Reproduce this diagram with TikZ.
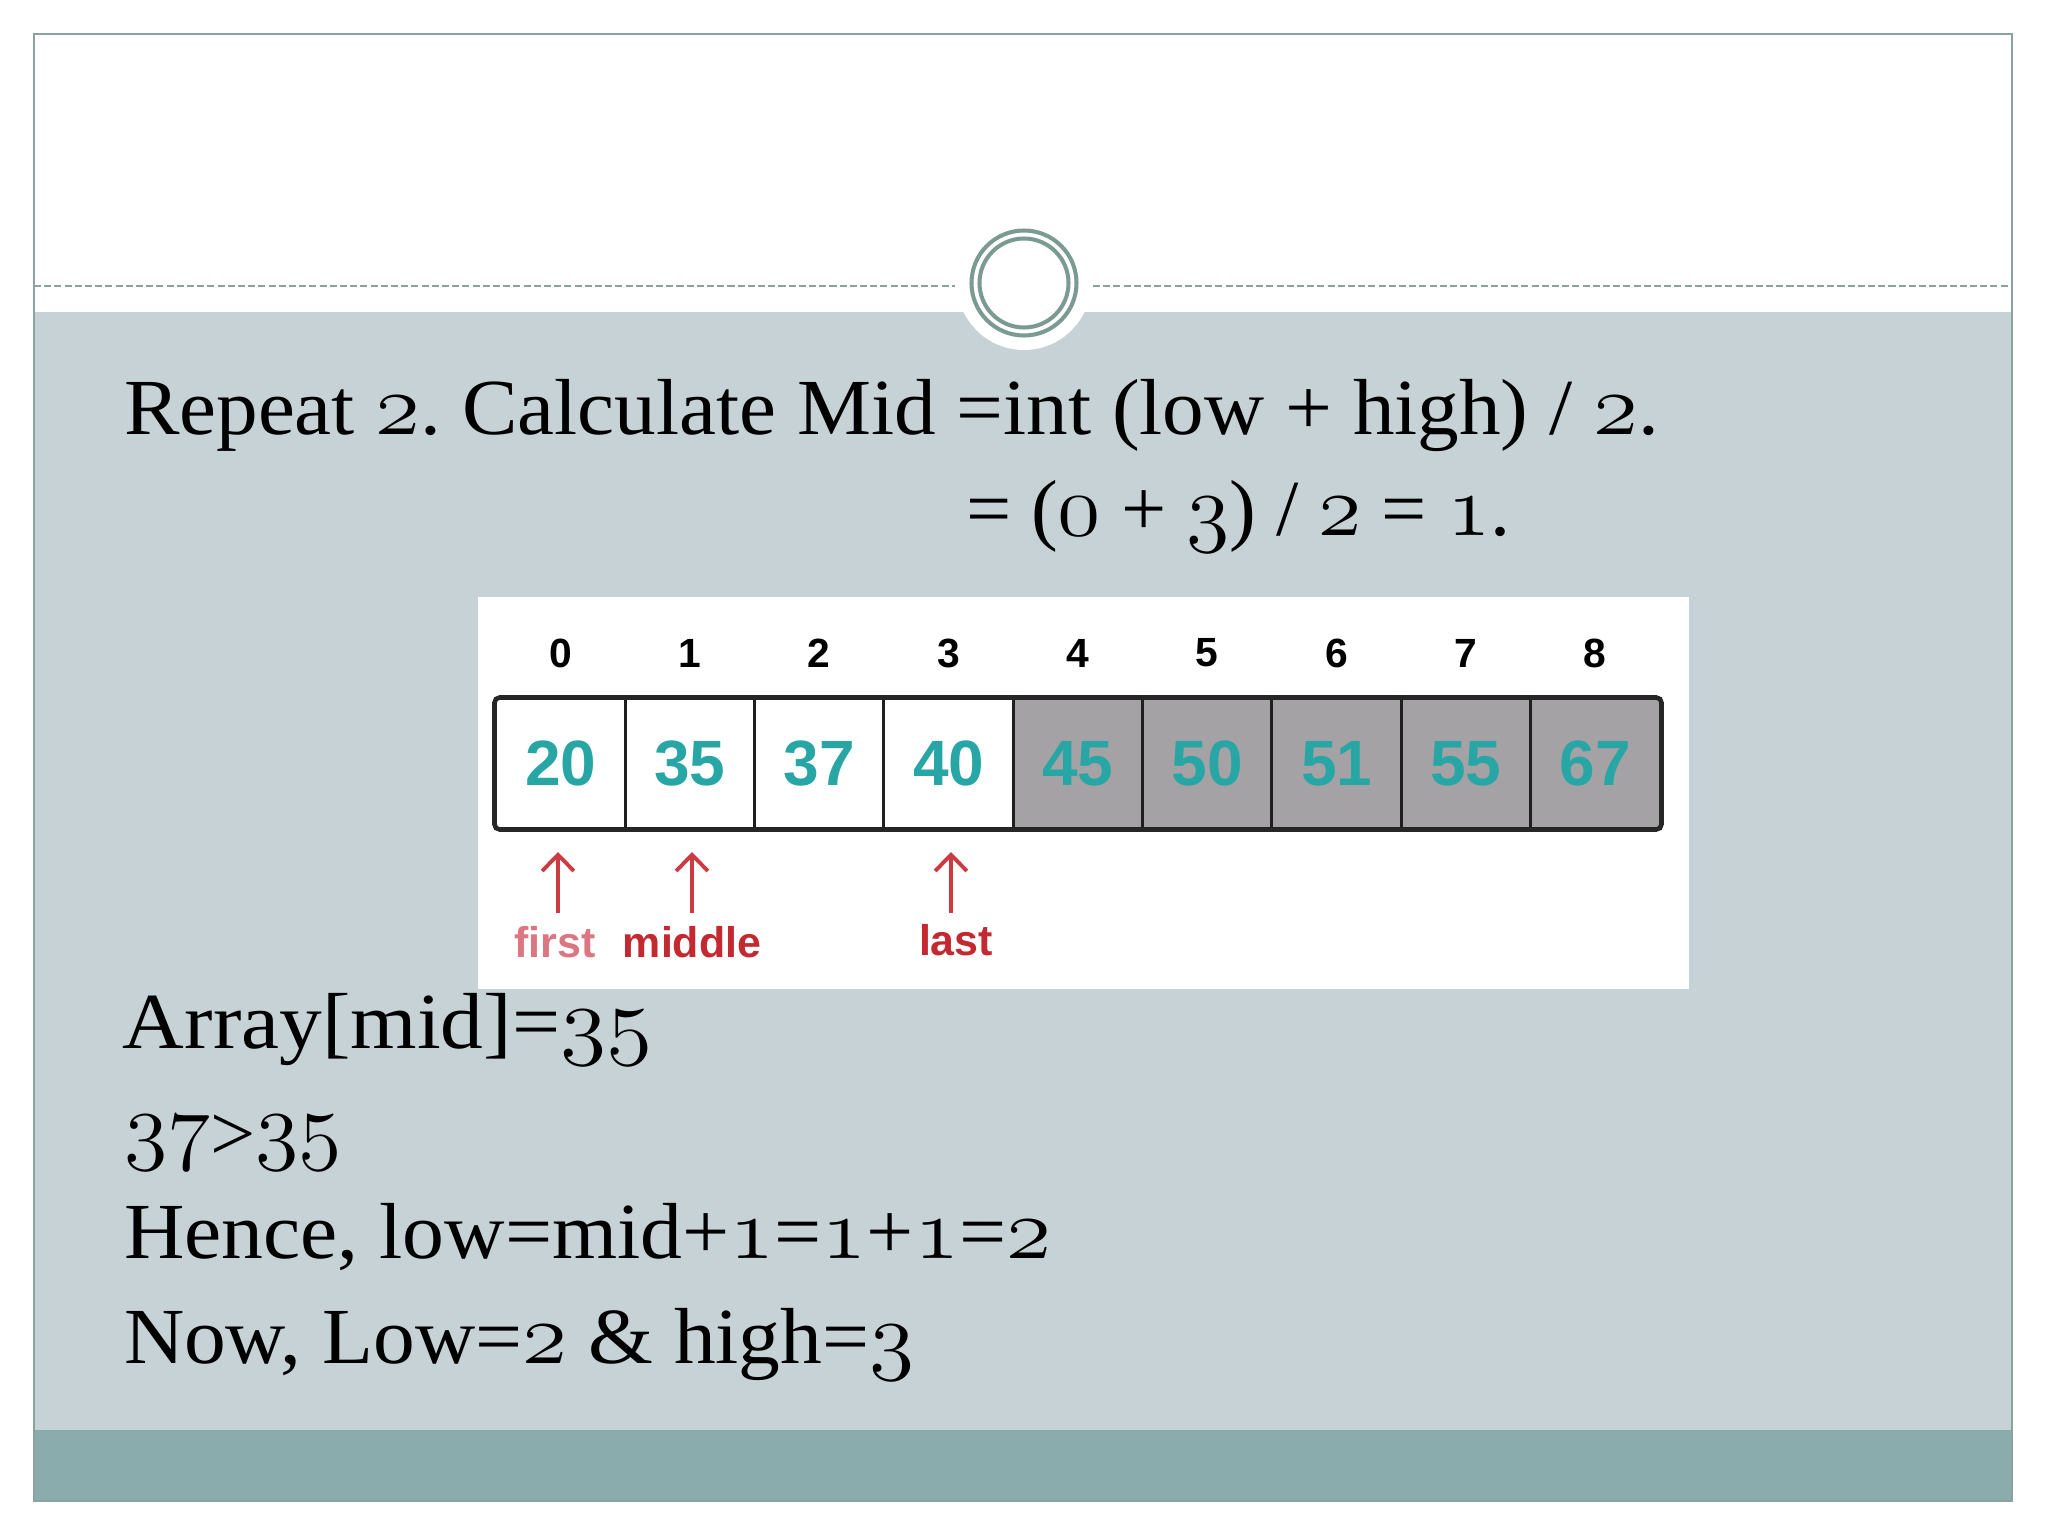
\documentclass[tikz,border=0pt]{standalone}
\usepackage{graphicx}
\usepackage{fontspec}
\setmainfont{Liberation Serif}
\newfontfamily\arrfont{Liberation Sans}
\usetikzlibrary{arrows.meta}
\frenchspacing

\definecolor{slidebg}{RGB}{198,210,214}
\definecolor{bandc}{RGB}{138,172,172}
\definecolor{framec}{RGB}{140,162,158}
\definecolor{ringc}{RGB}{122,154,146}
\definecolor{valc}{RGB}{40,166,166}
\definecolor{cellgray}{RGB}{164,162,164}
\definecolor{arrred}{RGB}{204,58,66}
\definecolor{labred}{RGB}{196,40,48}
\definecolor{labpink}{RGB}{220,118,128}

\newsavebox\fitbox
\newcommand\fitx[2]{\sbox\fitbox{#2}\pgfmathsetmacro\fitratio{#1*0.284528/\the\wd\fitbox}\scalebox{\fitratio}[1]{\usebox\fitbox}}
\newcommand\os[1]{{\fontsize{24.5pt}{27pt}\usefont{OML}{lmm}{b}{it}#1}}

\tikzset{
  txt/.style={inner sep=0pt, outer sep=0pt, anchor=base west, font=\fontsize{22.6pt}{27pt}\selectfont},
  cellbox/.style={draw=black!88, line width=0.85pt, minimum width=1.2933cm, minimum height=1.29cm, inner sep=0pt,
     text=valc, font=\arrfont\bfseries\fontsize{18.2pt}{20pt}\selectfont},
  idx/.style={inner sep=0pt, font=\arrfont\bfseries\fontsize{11.6pt}{13pt}\selectfont},
  lab/.style={inner sep=0pt, anchor=base, font=\arrfont\bfseries\fontsize{12.2pt}{14pt}\selectfont},
  arr/.style={arrred, line width=1.1pt, -{Straight Barb[length=4.6pt,width=9pt]}},
  ring/.style={ringc, line width=1.15pt},
  dashln/.style={framec, line width=0.45pt, dash pattern=on 2pt off 0.9pt}
}

\begin{document}
\begin{tikzpicture}[x=0.01cm,y=-0.01cm]
\useasboundingbox (0,0) rectangle (2048,1536);
\fill[white] (0,0) rectangle (2048,1536);
% slide body
\fill[slidebg] (34,312) rectangle (2012,1430);
\fill[bandc] (34,1430) rectangle (2012,1501);
\fill[white] (1024,283) circle (67);
\draw[dashln] (34,286) -- (955,286);
\draw[dashln] (1093,286) -- (2012,286);
\draw[ring] (1024,283) circle (52.5);
\draw[ring] (1024,283) circle (44.5);
\draw[framec, line width=0.5pt] (34,34) rectangle (2012,1501);

% text lines
\node[txt] (l1) at (124,434) {\fitx{1534}{Repeat \os{2}. Calculate Mid =int (low + high) / \os{2}.}};
\node[txt] (l2) at (966,535) {\fitx{544}{= (\os{0} + \os{3}) / \os{2} = \os{1}.}};

% picture box
\fill[white] (478,597) rectangle (1689,989);
\foreach \v [count=\i from 0] in {20,35,37,40} {
  \node[cellbox, fill=white] (c\i) at ({496+129.33*(\i+0.5)},763.5) {\v};
}
\foreach \v [count=\i from 4] in {45,50,51,55,67} {
  \node[cellbox, fill=cellgray] (c\i) at ({496+129.33*(\i+0.5)},763.5) {\v};
}
\draw[black!85, line width=1.3pt, rounded corners=1.5pt] (c0.north west) rectangle (c8.south east);
\foreach \i in {0,...,8} {
  \node[idx] (i\i) at ({496+129.33*(\i+0.5)},653) {\i};
}

% pointers
\coordinate (fb) at (558,913); \coordinate (ft) at (558,852);
\coordinate (mb) at (692,913); \coordinate (mt) at (692,852);
\coordinate (lb) at (951,913); \coordinate (lt) at (951,852);
\draw[arr] (fb) -- (ft);
\draw[arr] (mb) -- (mt);
\draw[arr] (lb) -- (lt);
\node[lab, text=labpink] (first) at (555,957) {first};
\node[lab, text=labred] (middle) at (692,957) {middle};
\node[lab, text=labred] (last) at (956,955) {last};

% lower text
\node[txt] (l3) at (123,1048) {\fitx{529}{Array[mid]=\os{35}}};
\node[txt] (l4) at (124,1153) {\fitx{218}{\os{37}\raisebox{-2.2pt}{>}\os{35}}};
\node[txt] (l5) at (124,1258) {\fitx{927}{Hence, low=mid+\os{1}=\os{1}+\os{1}=\os{2}}};
\node[txt] (l6) at (124,1363) {\fitx{790}{Now, Low=\os{2} \& high=\os{3}}};
\end{tikzpicture}
\end{document}
